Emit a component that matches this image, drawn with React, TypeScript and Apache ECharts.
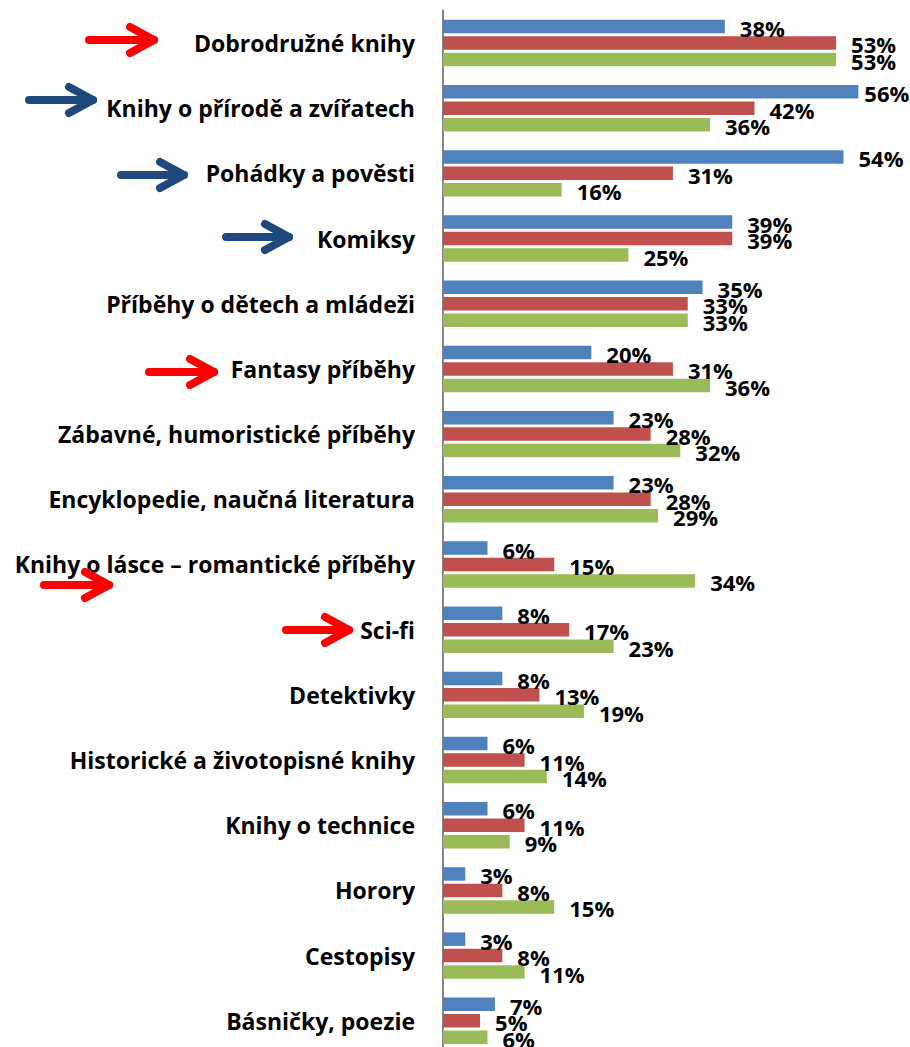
import React, { useEffect, useRef } from "react";
import * as echarts from "echarts";

const categories = [
  "Dobrodružné knihy",
  "Knihy o přírodě a zvířatech",
  "Pohádky a pověsti",
  "Komiksy",
  "Příběhy o dětech a mládeži",
  "Fantasy příběhy",
  "Zábavné, humoristické příběhy",
  "Encyklopedie, naučná literatura",
  "Knihy o lásce – romantické příběhy",
  "Sci-fi",
  "Detektivky",
  "Historické a životopisné knihy",
  "Knihy o technice",
  "Horory",
  "Cestopisy",
  "Básničky, poezie",
];

const blueValues = [38, 56, 54, 39, 35, 20, 23, 23, 6, 8, 8, 6, 6, 3, 3, 7];
const redValues = [53, 42, 31, 39, 33, 31, 28, 28, 15, 17, 13, 11, 11, 8, 8, 5];
const greenValues = [53, 36, 16, 25, 33, 36, 32, 29, 34, 23, 19, 14, 9, 15, 11, 6];

const seriesColors = ["#4F81BD", "#C0504D", "#9BBB59"];

// arrow annotations: [startX, tipX, y, color]
const arrows: [number, number, number, string][] = [
  [85, 158, 40, "#FF0000"],
  [25, 97, 100, "#1F497D"],
  [117, 188, 175, "#1F497D"],
  [222, 293, 237, "#1F497D"],
  [145, 218, 372, "#FF0000"],
  [40, 113, 585, "#FF0000"],
  [282, 353, 630, "#FF0000"],
];

const FONT = "Open Sans";

export default function App() {
  const ref = useRef<HTMLDivElement>(null);
  useEffect(() => {
    if (!ref.current) return;
    const chart = echarts.init(ref.current, undefined, { renderer: "svg" });
    const label = {
      show: true,
      position: "right" as const,
      distance: 15,
      formatter: "{c}%",
      fontFamily: FONT,
      fontSize: 22,
      fontWeight: "bold" as const,
      color: "#000",
      offset: [0, 1.5],
    };
    const toData = (vals: number[]) =>
      vals.map((v) => (v > 55 ? { value: v, label: { distance: 6 } } : v));
    const mk = (name: string, data: number[], color: string) => ({
      name,
      type: "bar" as const,
      data: toData(data),
      barWidth: 13.5,
      barGap: "22%",
      itemStyle: { color },
      label,
    });
    const graphic: any[] = [];
    arrows.forEach(([sx, tx, y, color]) => {
      graphic.push({
        type: "line",
        z: 100,
        shape: { x1: sx + 4, y1: y, x2: tx - 4, y2: y },
        style: { stroke: color, lineWidth: 8, lineCap: "round" },
      });
      graphic.push({
        type: "polyline",
        z: 100,
        shape: {
          points: [
            [tx - 28, y - 13],
            [tx - 4, y],
            [tx - 28, y + 13],
          ],
        },
        style: {
          stroke: color,
          fill: null,
          lineWidth: 8,
          lineCap: "round",
          lineJoin: "round",
        },
      });
    });
    chart.setOption({
      animation: false,
      backgroundColor: "#fff",
      grid: { left: 443, top: 10.4, width: 445, height: 1043, containLabel: false },
      xAxis: {
        type: "value",
        min: 0,
        max: 60,
        show: false,
        splitLine: { show: false },
      },
      yAxis: {
        type: "category",
        inverse: true,
        data: categories,
        axisLine: { show: true, lineStyle: { color: "#868686", width: 2 } },
        axisTick: { show: false },
        axisLabel: {
          fontFamily: FONT,
          fontSize: 23,
          fontWeight: "bold",
          color: "#000",
          margin: 28,
        },
      },
      series: [
        mk("A", blueValues, seriesColors[0]),
        mk("B", redValues, seriesColors[1]),
        mk("C", greenValues, seriesColors[2]),
      ],
      graphic,
    });
    return () => chart.dispose();
  }, []);
  return (
    <div
      style={{
        position: "absolute",
        left: 0,
        top: 0,
        width: 910,
        height: 1047,
        overflow: "hidden",
        background: "#fff",
      }}
    >
      <div ref={ref} style={{ width: 910, height: 1060 }} />
    </div>
  );
}
